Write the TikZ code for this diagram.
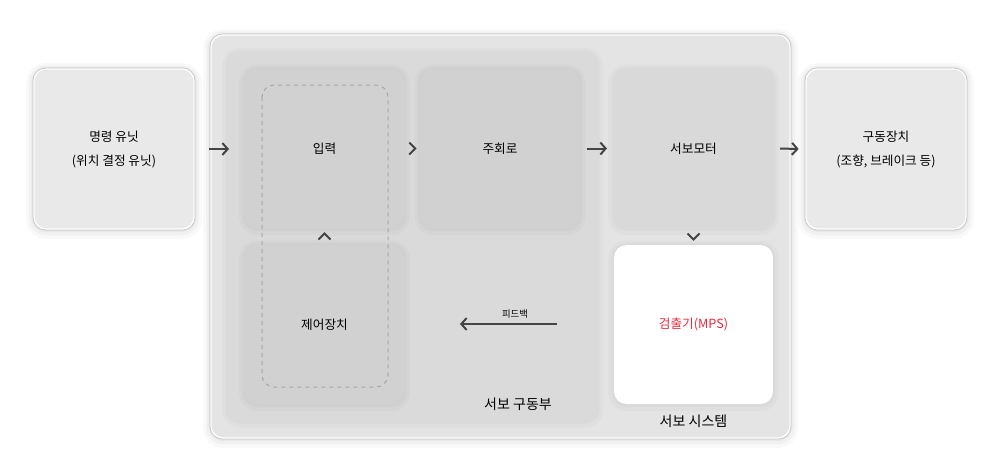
\documentclass[tikz,border=0pt]{standalone}
\usepackage{fontspec}
\setmainfont{Noto Sans CJK KR}
\usetikzlibrary{arrows.meta,calc}

\definecolor{unitfill}{HTML}{E9E9E9}
\definecolor{sysfill}{HTML}{E4E4E4}
\definecolor{drivefill}{HTML}{DADADA}
\definecolor{blockfill}{HTML}{D1D1D1}
\definecolor{motorfill}{HTML}{D9D9D9}
\definecolor{rimgray}{HTML}{C4C4C4}
\definecolor{arrowgray}{HTML}{444444}
\definecolor{mpsred}{HTML}{F0283C}

\tikzset{every picture/.style={line width=0.75pt}}

\begin{document}
\begin{tikzpicture}[x=0.75pt,y=0.75pt,yscale=-1,
  softglow/.style={preaction={draw=black, draw opacity=0.025, line width=12pt, transform canvas={yshift=-1.5pt}},
    preaction={draw=black, draw opacity=0.03, line width=7.5pt, transform canvas={yshift=-1pt}},
    preaction={draw=black, draw opacity=0.04, line width=3.6pt, transform canvas={yshift=-0.5pt}}},
  faintglow/.style={preaction={draw=black, draw opacity=0.02, line width=9pt, transform canvas={yshift=-1pt}},
    preaction={draw=black, draw opacity=0.02, line width=4pt, transform canvas={yshift=-0.5pt}}},
  rim/.style={preaction={draw=rimgray, line width=2.2pt}, draw=white, line width=1pt},
  unit/.style={softglow, rim, fill=unitfill, rounded corners=9pt,
    minimum width=120pt, minimum height=120pt, align=center,
    font=\fontsize{9.5}{18}\selectfont},
  group/.style={rounded corners=9pt, inner sep=0pt},
  block/.style={faintglow, fill=blockfill, rounded corners=9pt, minimum width=119pt,
    minimum height=119pt, font=\fontsize{9.5}{12}\selectfont},
  arr/.style={-{Straight Barb[length=4pt,width=9pt]}, line width=1.5pt, arrowgray},
  chev/.style={line width=1.5pt, arrowgray},
  caption/.style={font=\fontsize{10.5}{13}\selectfont}]
  \useasboundingbox (0,0) rectangle (1000,472);

  %Shape: Servo system [id:sys]
  \node [group, softglow, rim, fill=sysfill, minimum width=434.25pt, minimum height=302.25pt] (sys) at (500.5,236.5) {};
  %Shape: Servo drive [id:drive]
  \node [group, faintglow, fill=drivefill, minimum width=276.75pt, minimum height=276pt] (drive) at (412.5,236.5) {};

  %Shape: Units [id:cmd]
  \node [unit] (cmd) at (114,149) {명령 유닛\\(위치 결정 유닛)};
  \node [unit] (act) at (886,149) {구동장치\\(조향, 브레이크 등)};

  %Shape: Blocks
  \node [block] (input) at (324.5,148.5) {입력};
  \node [block] (main) at (500,148.5) {주회로};
  \node [block] (ctrl) at (324.5,324.5) {제어장치};
  \node [block, fill=motorfill] (motor) at (693.5,148.5) {서보모터};
  \node [block, fill=white, text=mpsred] (sensor) at (693.5,324.5) {검출기(MPS)};

  %Shape: Dashed frame [id:loop]
  \draw [dashed, draw=black!35, line width=0.75pt, rounded corners=9pt] (262,85) rectangle (388,387);

  %Straight Lines
  \draw [arr] ([xshift=11pt]cmd.east) -- ([xshift=14pt]sys.west |- cmd.east);
  \draw [arr] ([xshift=5pt]main.east |- input.east) -- ([xshift=-5pt]motor.west);
  \draw [arr] ([xshift=5pt]motor.east) -- ([xshift=-5pt]act.west);

  %Chevrons
  \coordinate (c1) at ($(input.east)!0.5!(main.west)$);
  \draw [chev] ($(c1)+(-3,-6)$) -- ($(c1)+(3,0)$) -- ($(c1)+(-3,6)$);
  \coordinate (c2) at ($(input.south)!0.5!(ctrl.north)$);
  \draw [chev] ($(c2)+(-6,3)$) -- ($(c2)+(0,-3)$) -- ($(c2)+(6,3)$);
  \coordinate (c3) at ($(motor.south)!0.5!(sensor.north)$);
  \draw [chev] ($(c3)+(-6,-3)$) -- ($(c3)+(0,3)$) -- ($(c3)+(6,-3)$);

  %Feedback
  \coordinate (fbstart) at (557,324);
  \coordinate (fbend) at (460,324);
  \draw [arr] (fbstart) -- (fbend);
  \node [font=\fontsize{7}{8}\selectfont] (fb) at (515,314) {피드백};

  % Text Node
  \node [caption] (drivelabel) at (518,404) {서보 구동부};
  % Text Node
  \node [caption] (syslabel) at (693.5,421) {서보 시스템};
\end{tikzpicture}
\end{document}
